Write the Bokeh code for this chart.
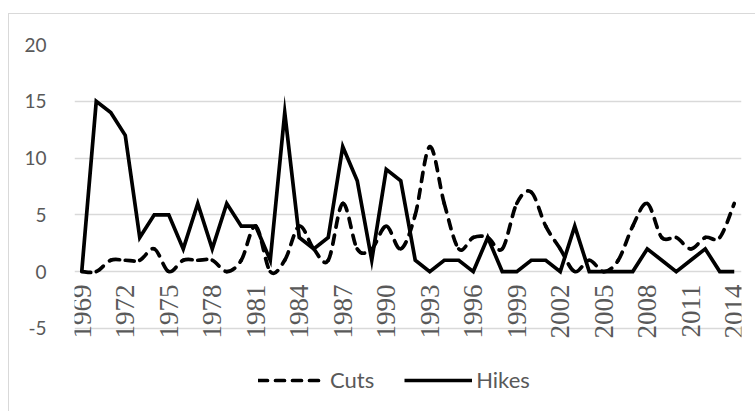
import math
from bokeh.plotting import figure
from bokeh.models import FixedTicker, Legend, LegendItem, ColumnDataSource, Range1d
from bokeh.embed import file_html
from bokeh.resources import INLINE

years = list(range(1969, 2015))
cuts = [0, 0, 1, 1, 1, 2, 0, 1, 1, 1, 0, 1, 4, 0, 1, 4, 2, 1, 6, 2, 2, 4, 2, 5, 11, 6,
        2, 3, 3, 2, 6, 7, 4, 2, 0, 1, 0, 1, 4, 6, 3, 3, 2, 3, 3, 6]
hikes = [0, 15, 14, 12, 3, 5, 5, 2, 6, 2, 6, 4, 4, 1, 14, 3, 2, 3, 11, 8, 1, 9, 8, 1, 0, 1,
         1, 0, 3, 0, 0, 1, 1, 0, 4, 0, 0, 0, 0, 2, 1, 0, 1, 2, 0, 0]
x_tick_years = years[::3]
x_tick_labels = [str(y) for y in x_tick_years]
y_ticks = [-5, 0, 5, 10, 15, 20]
y_tick_labels = ["-5", "0", "5", "10", "15", "20"]

GRAY_TXT = "#595959"
GRID = "#d9d9d9"

p = figure(width=747, height=398, output_backend="svg", toolbar_location=None,
           x_range=Range1d(1968.5, 2014.5), y_range=Range1d(-11, 20),
           min_border_left=65, min_border_right=15, min_border_top=30, min_border_bottom=16)
p.margin = (13, 0, 0, 8)
p.styles = {"border-top": "1px solid #d9d9d9", "border-left": "1px solid #d9d9d9"}
p.outline_line_color = None
p.background_fill_color = "white"
p.border_fill_color = "white"

# grid
p.xgrid.grid_line_color = None
p.ygrid.ticker = FixedTicker(ticks=y_ticks)
p.ygrid.grid_line_color = GRID
p.ygrid.grid_line_width = 1.3

# y axis
p.yaxis.ticker = FixedTicker(ticks=y_ticks)
p.yaxis.major_label_overrides = {t: s for t, s in zip(y_ticks, y_tick_labels)}
p.yaxis.axis_line_color = None
p.yaxis.major_tick_line_color = None
p.yaxis.minor_tick_line_color = None
p.yaxis.major_label_text_font = "Lato"
p.yaxis.major_label_text_font_size = "19px"
p.yaxis.major_label_text_color = GRAY_TXT
p.yaxis.major_label_standoff = 22

# x axis drawn as category labels hanging below the zero line
p.xaxis.visible = False
lsrc = ColumnDataSource(dict(x=x_tick_years, y=[0] * len(x_tick_years), t=x_tick_labels))
p.text(x="x", y="y", text="t", source=lsrc, angle=math.pi / 2,
       text_align="right", text_baseline="middle", y_offset=13,
       text_font="Liberation Serif", text_font_size="27px", text_color=GRAY_TXT)

# smoothed dashed line for cuts (bezier between consecutive data points)
n = len(years)
bx0, by0, bx1, by1, cx0, cy0, cx1, cy1 = [], [], [], [], [], [], [], []
for i in range(n - 1):
    ip = i - 1 if i > 0 else i
    inx = i + 2 if i + 2 < n else i + 1
    bx0.append(years[i]); by0.append(cuts[i])
    bx1.append(years[i + 1]); by1.append(cuts[i + 1])
    cx0.append(years[i] + (years[i + 1] - years[ip]) / 6.0)
    cy0.append(cuts[i] + (cuts[i + 1] - cuts[ip]) / 6.0)
    cx1.append(years[i + 1] - (years[inx] - years[i]) / 6.0)
    cy1.append(cuts[i + 1] - (cuts[inx] - cuts[i]) / 6.0)
bsrc = ColumnDataSource(dict(x0=bx0, y0=by0, x1=bx1, y1=by1,
                             cx0=cx0, cy0=cy0, cx1=cx1, cy1=cy1))
r_cuts = p.bezier(x0="x0", y0="y0", x1="x1", y1="y1", cx0="cx0", cy0="cy0",
                  cx1="cx1", cy1="cy1", source=bsrc, line_color="black",
                  line_width=3.7, line_dash="9 8", line_cap="round")

hsrc = ColumnDataSource(dict(year=years, hikes=hikes))
r_hikes = p.line(x="year", y="hikes", source=hsrc, line_color="black",
                 line_width=3.7, line_join="miter")

legend = Legend(items=[LegendItem(label="Cuts", renderers=[r_cuts]),
                       LegendItem(label="Hikes", renderers=[r_hikes])],
                orientation="horizontal", location=(184, 3),
                glyph_width=68, glyph_height=20, label_standoff=4, spacing=30,
                padding=0, margin=0, border_line_color=None,
                background_fill_alpha=0,
                label_text_font="Lato", label_text_font_size="22px",
                label_text_color=GRAY_TXT)
p.add_layout(legend, "center")

open("out.html", "w").write(file_html(p, INLINE))
